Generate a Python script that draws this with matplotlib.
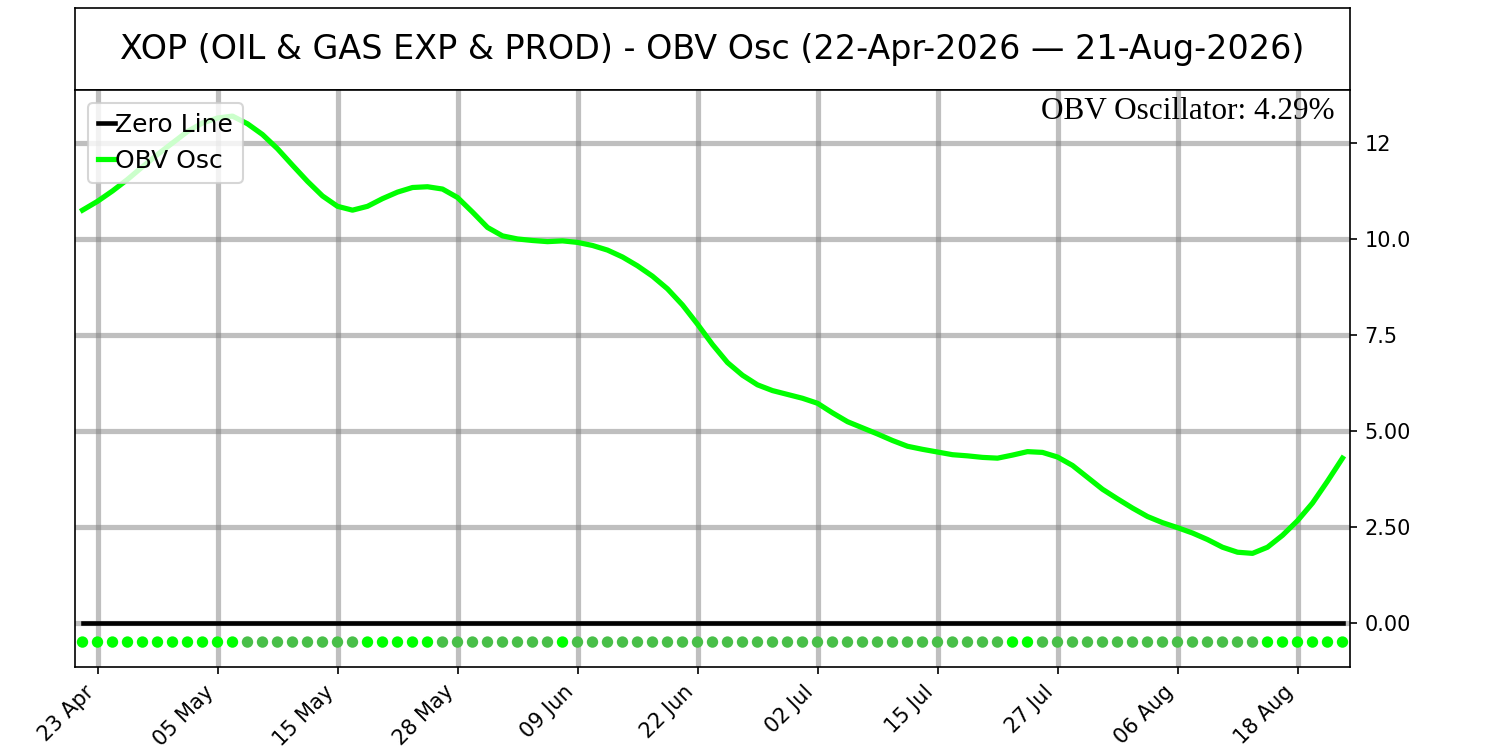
import numpy as np
import pandas as pd
import matplotlib
matplotlib.use("Agg")
import matplotlib.pyplot as plt

# ---- data ----
title = "XOP (OIL & GAS EXP & PROD) - OBV Osc (22-Apr-2026 \u2014 21-Aug-2026)"
holidays = ["2026-05-25", "2026-06-19", "2026-07-03"]
dates = pd.bdate_range("2026-04-22", "2026-08-21", freq="C", holidays=holidays)

obv_osc = [
    10.75, 10.98, 11.25, 11.55, 11.88, 12.20, 12.50, 12.80, 13.02, 13.15,
    13.20, 13.00, 12.72, 12.35, 11.92, 11.50, 11.12, 10.85, 10.75, 10.85,
    11.05, 11.22, 11.34, 11.36, 11.30, 11.08, 10.70, 10.30, 10.08, 10.00,
    9.96, 9.93, 9.95, 9.91, 9.83, 9.71, 9.53, 9.30, 9.03, 8.70,
    8.28, 7.78, 7.25, 6.78, 6.45, 6.20, 6.05, 5.95, 5.85, 5.72,
    5.47, 5.24, 5.08, 4.92, 4.75, 4.60, 4.52, 4.45, 4.38, 4.35,
    4.31, 4.29, 4.37, 4.46, 4.44, 4.32, 4.10, 3.79, 3.48, 3.23,
    2.99, 2.77, 2.61, 2.48, 2.34, 2.17, 1.97, 1.84, 1.81, 1.97,
    2.28, 2.66, 3.12, 3.69, 4.29,
]
current_value = 4.29
ytick_values = [0.0, 2.5, 5.0, 7.5, 10.0, 12.5]
ytick_labels = ["0.00", "2.50", "5.00", "7.5", "10.0", "12"]

# ---- plot ----
plt.rcParams['font.family'] = ['DejaVu Sans']
fig = plt.figure(figsize=(10, 5), dpi=150)

tax = fig.add_axes([75/1500, 1 - 90/750, 1275/1500, 82/750])
tax.set_xticks([]); tax.set_yticks([])
tax.text(0.5, 0.5, title, ha='center', va='center', fontsize=16, transform=tax.transAxes)

ax = fig.add_axes([75/1500, 83/750, 1275/1500, 577/750])
x = np.arange(len(obv_osc))
y = np.array(obv_osc)

ax.plot(x, np.zeros_like(y), color='black', lw=2.2, label='Zero Line', zorder=3)
ax.plot(x, y, color='#00ff00', lw=2.5, label='OBV Osc', zorder=4)

diff = np.diff(y, prepend=y[0] - 1)
colors = np.where(diff > 0, '#00ff00', '#48bf48')
ax.scatter(x, np.full_like(y, -0.5), c=colors, s=30, zorder=5, edgecolors='none')

ax.set_xlim(-0.5, len(y) - 0.5)
ax.set_ylim(-1.15, 13.88)
tick_pos = np.arange(1, len(y), 8)
ax.set_xticks(tick_pos)
ax.set_xticklabels([dates[i].strftime('%d %b') for i in tick_pos], rotation=45, ha='right')
ax.yaxis.tick_right()
ax.set_yticks(ytick_values)
ax.set_yticklabels(ytick_labels)
ax.grid(True, color='gray', alpha=0.5, lw=2.5)

ax.text(0.988, 0.988, f"OBV Oscillator: {current_value:.2f}%", transform=ax.transAxes,
        ha='right', va='top', fontsize=15, family=['Liberation Serif', 'DejaVu Serif'], zorder=6)

ax.legend(loc='upper left', fontsize=12, handlelength=0.7, handletextpad=0.0,
          borderpad=0.4, labelspacing=0.5)

fig.savefig('out.png', dpi=150)
